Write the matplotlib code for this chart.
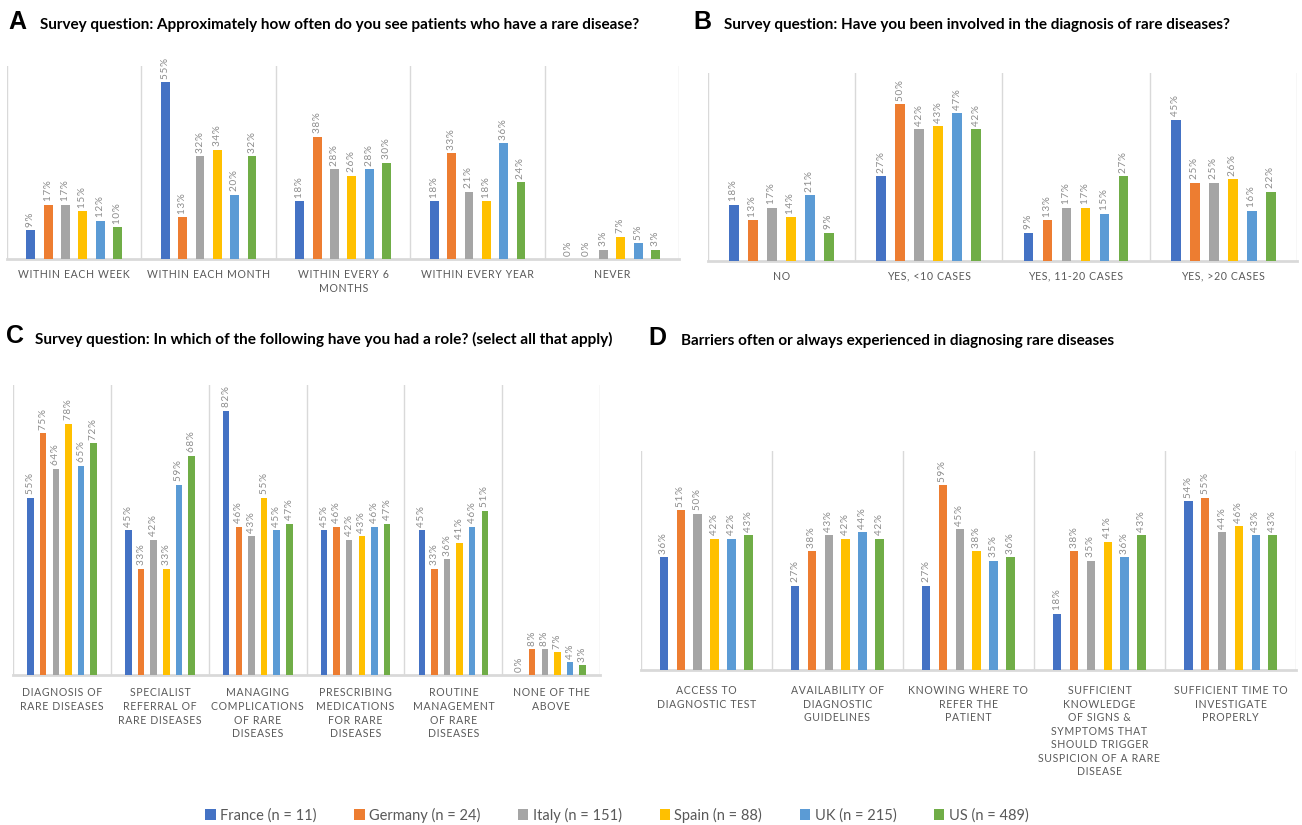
import matplotlib
matplotlib.use("Agg")
import matplotlib.pyplot as plt
from matplotlib.patches import Patch
import numpy as np

# ---- data -------------------------------------------------------------
countries = ["France (n = 11)", "Germany (n = 24)", "Italy (n = 151)",
             "Spain (n = 88)", "UK (n = 215)", "US (n = 489)"]
colors = ["#4472C4", "#ED7D31", "#A5A5A5", "#FFC000", "#5B9BD5", "#70AD47"]

a_title = "Survey question: Approximately how often do you see patients who have a rare disease?"
a_cats = ["WITHIN EACH WEEK", "WITHIN EACH MONTH", "WITHIN EVERY 6\nMONTHS",
          "WITHIN EVERY YEAR", "NEVER"]
a_france = [9, 55, 18, 18, 0]
a_germany = [17, 13, 38, 33, 0]
a_italy = [17, 32, 28, 21, 3]
a_spain = [15, 34, 26, 18, 7]
a_uk = [12, 20, 28, 36, 5]
a_us = [10, 32, 30, 24, 3]

b_title = "Survey question: Have you been involved in the diagnosis of rare diseases?"
b_cats = ["NO", "YES, <10 CASES", "YES, 11-20 CASES", "YES, >20 CASES"]
b_france = [18, 27, 9, 45]
b_germany = [13, 50, 13, 25]
b_italy = [17, 42, 17, 25]
b_spain = [14, 43, 17, 26]
b_uk = [21, 47, 15, 16]
b_us = [9, 42, 27, 22]

c_title = "Survey question: In which of the following have you had a role? (select all that apply)"
c_cats = ["DIAGNOSIS OF\nRARE DISEASES", "SPECIALIST\nREFERRAL OF\nRARE DISEASES",
          "MANAGING\nCOMPLICATIONS\nOF RARE\nDISEASES",
          "PRESCRIBING\nMEDICATIONS\nFOR RARE\nDISEASES",
          "ROUTINE\nMANAGEMENT\nOF RARE\nDISEASES", "NONE OF THE\nABOVE"]
c_france = [55, 45, 82, 45, 45, 0]
c_germany = [75, 33, 46, 46, 33, 8]
c_italy = [64, 42, 43, 42, 36, 8]
c_spain = [78, 33, 55, 43, 41, 7]
c_uk = [65, 59, 45, 46, 46, 4]
c_us = [72, 68, 47, 47, 51, 3]

d_title = "Barriers often or always experienced in diagnosing rare diseases"
d_cats = ["ACCESS TO\nDIAGNOSTIC TEST", "AVAILABILITY OF\nDIAGNOSTIC\nGUIDELINES",
          "KNOWING WHERE TO\nREFER THE\nPATIENT",
          "SUFFICIENT\nKNOWLEDGE\nOF SIGNS &\nSYMPTOMS THAT\nSHOULD TRIGGER\nSUSPICION OF A RARE\nDISEASE",
          "SUFFICIENT TIME TO\nINVESTIGATE\nPROPERLY"]
d_france = [36, 27, 27, 18, 54]
d_germany = [51, 38, 59, 38, 55]
d_italy = [50, 43, 45, 35, 44]
d_spain = [42, 42, 38, 41, 46]
d_uk = [42, 44, 35, 36, 43]
d_us = [43, 42, 36, 43, 43]

# ---- styling ----------------------------------------------------------
W, H = 1302, 825
FONT = ["Lato", "DejaVu Sans"]
GRID = "#D9D9D9"
LABEL_GREY = "#595959"
VALUE_GREY = "#8C8C8C"
PITCH = 0.129
BAR_W = 0.066

fig = plt.figure(figsize=(W / 100, H / 100), dpi=100)


def spaced(s, sep="\u200a"):
    return "\n".join(sep.join(line) for line in s.split("\n"))


def px_axes(left, right, bottom, top):
    return fig.add_axes([left / W, 1 - bottom / H, (right - left) / W, (bottom - top) / H])


def panel(box, cats, series, ymax, label_pad):
    ax = px_axes(*box)
    n = len(cats)
    x = np.arange(n)
    for j, (vals, col) in enumerate(zip(series, colors)):
        pos = x + (j - 2.5) * PITCH
        bars = ax.bar(pos, vals, width=BAR_W, color=col, zorder=3)
        for b, v in zip(bars, vals):
            ax.annotate(spaced(f"{v}%"), (b.get_x() + b.get_width() / 2, v),
                        xytext=(0, 2.5), textcoords="offset points",
                        rotation=90, ha="center", va="bottom",
                        fontsize=7.2, color=VALUE_GREY, family=FONT)
    ax.set_xlim(-0.5, n - 0.5)
    ax.set_ylim(0, ymax)
    for k in range(n + 1):
        ax.axvline(k - 0.5, color=GRID, lw=1.0, zorder=1)
    for s in ["top", "right", "left"]:
        ax.spines[s].set_visible(False)
    ax.spines["bottom"].set_color(GRID)
    ax.spines["bottom"].set_linewidth(2.0)
    ax.set_yticks([])
    ax.set_xticks(x)
    ax.set_xticklabels([spaced(c) for c in cats], fontsize=7.6, color=LABEL_GREY,
                       family=FONT, linespacing=1.28)
    ax.tick_params(axis="x", length=0, pad=label_pad)
    return ax


panel((7, 679.3, 259.3, 66.1),
      a_cats, [a_france, a_germany, a_italy, a_spain, a_uk, a_us], 60, 7)
panel((707.7, 1297, 261, 72.7),
      b_cats, [b_france, b_germany, b_italy, b_spain, b_uk, b_us], 60, 7)
panel((13.3, 600, 675, 385),
      c_cats, [c_france, c_germany, c_italy, c_spain, c_uk, c_us], 90, 9)
panel((640.7, 1296, 670, 451),
      d_cats, [d_france, d_germany, d_italy, d_spain, d_uk, d_us], 70, 11)

# ---- panel letters and titles ----------------------------------------
letters = [("A", 8, 22), ("B", 693, 22), ("C", 6, 336), ("D", 648, 338)]
for ch, lx, ly in letters:
    fig.text(lx / W, 1 - ly / H, ch, fontsize=18, fontweight="bold",
             family=["Liberation Sans", "DejaVu Sans"], va="center", ha="left")

titles = [(a_title, 40, 25, 603), (b_title, 724, 25, 510),
          (c_title, 35, 339, 578), (d_title, 681, 341, 436)]
renderer = fig.canvas.get_renderer()
for txt, tx, ty, target in titles:
    t = fig.text(tx / W, 1 - ty / H, txt, fontsize=10.5, fontweight="bold",
                 family=FONT, va="center", ha="left", color="#000000")
    w = t.get_window_extent(renderer).width
    t.set_fontsize(10.5 * target / w)

# ---- legend -----------------------------------------------------------
handles = [Patch(facecolor=c, edgecolor="none") for c in colors]
leg = fig.legend(handles, countries, loc="center", ncol=6,
                 bbox_to_anchor=(617 / W, 1 - 815 / H), frameon=False,
                 handlelength=0.7, handleheight=0.7, handletextpad=0.3,
                 columnspacing=2.6, prop={"family": FONT, "size": 10.5})
for t in leg.get_texts():
    t.set_color(LABEL_GREY)

fig.savefig("out.png", dpi=100, facecolor="white")
